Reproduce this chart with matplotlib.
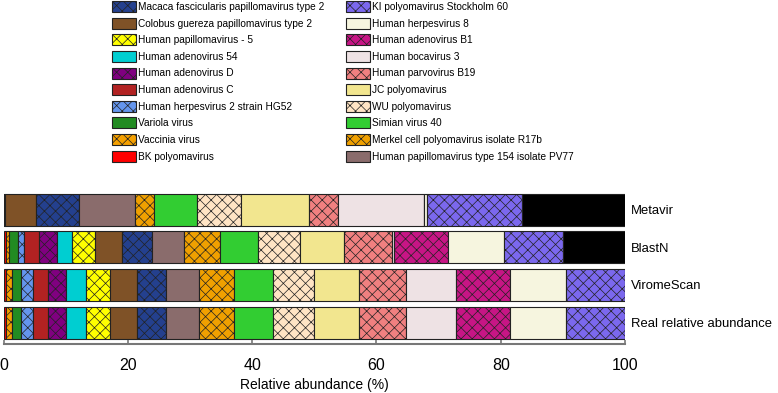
import numpy as np
import matplotlib.pyplot as plt
from matplotlib.patches import Patch

plt.rcParams['font.family'] = ['Liberation Sans', 'DejaVu Sans']
plt.rcParams['hatch.linewidth'] = 0.5

# stack order, left to right
viruses = ['BK polyomavirus', 'Vaccinia virus', 'Variola virus',
           'Human herpesvirus 2 strain HG52', 'Human adenovirus C',
           'Human adenovirus D', 'Human adenovirus 54', 'Human papillomavirus - 5',
           'Colobus guereza papillomavirus type 2',
           'Macaca fascicularis papillomavirus type 2',
           'Human papillomavirus type 154 isolate PV77',
           'Merkel cell polyomavirus isolate R17b', 'Simian virus 40',
           'WU polyomavirus', 'JC polyomavirus', 'Human parvovirus B19',
           'Human bocavirus 3', 'Human adenovirus B1', 'Human herpesvirus 8',
           'KI polyomavirus Stockholm 60']
colors = ['#ff0000', '#f5a000', '#228b22', '#6495ed', '#b22222',
          '#800080', '#00ced1', '#ffff00', '#7f5227', '#24408e',
          '#8a6c6c', '#f0a000', '#32cd32', '#ffe4c4', '#f2e68f',
          '#f08080', '#eee2e4', '#c71585', '#f6f5df', '#7b68ee']
hatches = ['', 'xxx', '', 'xxx', '', 'xxx', '', 'xxx', '', 'xxx',
           '', 'xxx', '', 'xxx', '', 'xxx', '', 'xxx', '', 'xxx']

methods = ['Real relative abundance', 'ViromeScan', 'BlastN', 'Metavir']

real = [0.48, 0.95, 1.43, 1.90, 2.38, 2.86, 3.33, 3.81, 4.29, 4.76,
        5.24, 5.71, 6.19, 6.67, 7.14, 7.62, 8.10, 8.57, 9.05, 9.52]
viromescan = [0.45, 0.97, 1.45, 1.93, 2.41, 2.85, 3.27, 3.81, 4.30, 4.72,
              5.31, 5.68, 6.18, 6.69, 7.19, 7.56, 8.05, 8.69, 8.96, 9.53]
blastn = [0.40, 0.48, 1.50, 0.97, 2.37, 2.90, 2.41, 3.75, 4.25, 4.83,
          5.25, 5.74, 6.16, 6.71, 7.03, 7.72, 0.37, 8.64, 9.01, 9.59]
metavir = [0, 0, 0, 0, 0, 0, 0.25, 0, 4.94, 7.0,
           9.0, 2.96, 7.0, 7.0, 11.0, 4.67, 13.8, 0, 0.6, 15.2]
unassigned = [0, 0, 9.92, 16.58]

data = np.array([real, viromescan, blastn, metavir]).T

fig = plt.figure(figsize=(7.78, 3.93), dpi=100)
ax = fig.add_axes([3.5/778, 1-344/393, (625-3.5)/778, 154/393])

y = np.arange(len(methods))
left = np.zeros(len(methods))
for i in range(len(viruses)):
    ax.barh(y, data[i], left=left, height=0.85, color=colors[i],
            hatch=hatches[i], edgecolor='#222222', linewidth=0.8)
    left += data[i]
ax.barh(y, unassigned, left=left, height=0.85, color='black',
        edgecolor='#222222', linewidth=0.8)

ax.set_xlim(0, 100)
ax.set_ylim(-0.57, 3.52)
ax.set_xticks([0, 20, 40, 60, 80, 100])
ax.set_yticks(y)
ax.set_yticklabels(methods, fontsize=9.4)
ax.yaxis.tick_right()
ax.tick_params(axis='y', length=0, pad=4)
ax.tick_params(axis='x', direction='in', length=3, width=1.2, color='#777777',
               labelsize=11.5, pad=10)
for s in ['top', 'left', 'right']:
    ax.spines[s].set_visible(False)
ax.spines['bottom'].set_color('#777777')
ax.spines['bottom'].set_linewidth(1.5)
ax.set_xlabel('Relative abundance (%)', fontsize=10, labelpad=4)

# legend in two columns, each listed top-down = reverse stack order
def handles(idx):
    return [Patch(facecolor=colors[k], hatch=hatches[k], edgecolor='#222222',
                  linewidth=0.8) for k in idx]

left_idx = list(range(9, -1, -1))
right_idx = list(range(19, 9, -1))
kw = dict(fontsize=7.3, frameon=False, handlelength=2.35, handleheight=1.3,
          labelspacing=0.55, handletextpad=0.2, borderpad=0, borderaxespad=0,
          loc='upper left')
leg1 = fig.legend(handles(left_idx), [viruses[k] for k in left_idx],
                  bbox_to_anchor=(112/778, 1 - 1/393), **kw)
leg2 = fig.legend(handles(right_idx), [viruses[k] for k in right_idx],
                  bbox_to_anchor=(346/778, 1 - 1/393), **kw)

plt.savefig('out.png', dpi=100)
